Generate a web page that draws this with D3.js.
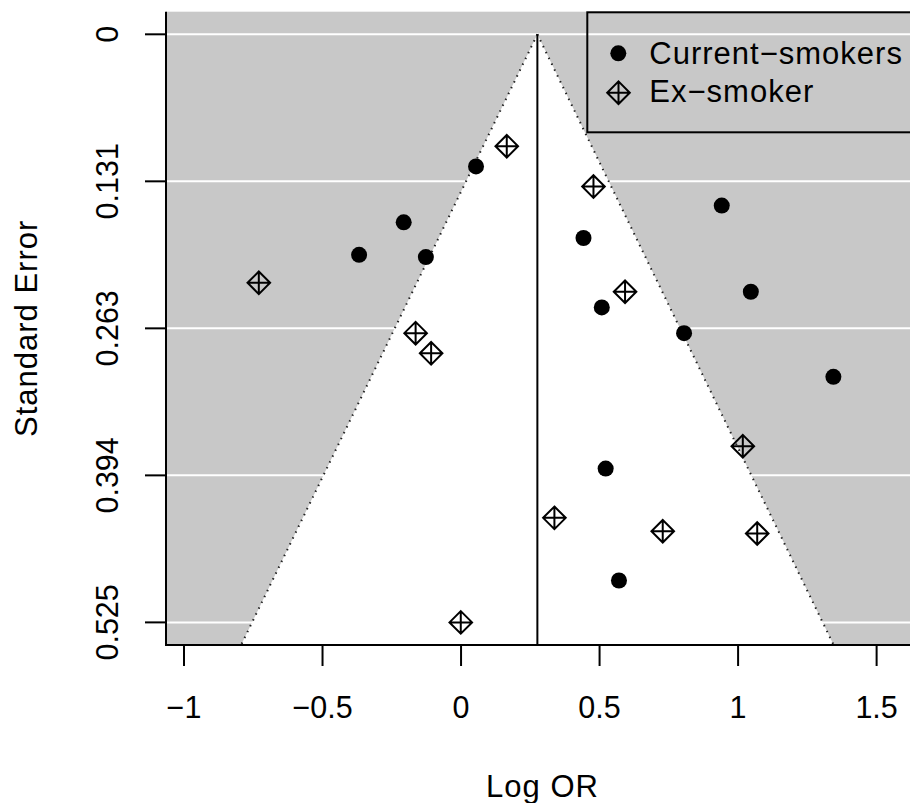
<!DOCTYPE html>
<html>
<head>
<meta charset="utf-8">
<script src="https://cdn.jsdelivr.net/npm/d3@7"></script>
<style>
  body { margin: 0; background: #fff; }
  text { font-family: "Liberation Sans", Arial, sans-serif; fill: #000; }
</style>
</head>
<body>
<div id="chart"></div>
<script>
// funnel plot data: log odds ratio vs standard error
const currentLogOR = [0.054, -0.207, -0.368, -0.127, 0.442, 0.941, 1.046, 0.508, 0.805, 1.344, 0.522, 0.570];
const currentSE    = [0.118, 0.168, 0.197, 0.199, 0.182, 0.153, 0.230, 0.244, 0.267, 0.306, 0.388, 0.488];
const exLogOR = [0.165, 0.478, -0.730, 0.592, -0.164, -0.108, 1.017, 0.337, 0.728, 1.069, -0.001];
const exSE    = [0.100, 0.136, 0.222, 0.230, 0.267, 0.285, 0.368, 0.432, 0.444, 0.446, 0.5254];
const pooledEstimate = 0.2755;
const xTicks = [-1, -0.5, 0, 0.5, 1, 1.5];
const xTickLabels = ["\u22121", "\u22120.5", "0", "0.5", "1", "1.5"];
const yTicks = [0, 0.13135, 0.2627, 0.39405, 0.5254];
const yTickLabels = ["0", "0.131", "0.263", "0.394", "0.525"];
const seriesNames = ["Current\u2212smokers", "Ex\u2212smoker"];

const width = 910, height = 803;
const plot = {left: 166, right: 919, top: 11.7, bottom: 645};

const svg = d3.select("#chart").append("svg")
    .attr("width", width)
    .attr("height", height);

const x = d3.scaleLinear().domain([-1.065, 1.653]).range([plot.left, plot.right]);
const y = d3.scaleLinear().domain([-0.0202, 0.5456]).range([plot.top, plot.bottom]);
const yMax = y.domain()[1];

// grey background
svg.append("rect")
    .attr("x", plot.left).attr("y", plot.top)
    .attr("width", plot.right - plot.left).attr("height", plot.bottom - plot.top)
    .attr("fill", "#c8c8c8");

// white horizontal lines at y ticks
svg.append("g").selectAll("line")
    .data(yTicks)
    .enter().append("line")
    .attr("x1", plot.left).attr("x2", plot.right)
    .attr("y1", d => y(d)).attr("y2", d => y(d))
    .attr("stroke", "#fff").attr("stroke-width", 2);

// white funnel (pseudo confidence region)
const tri = [[pooledEstimate, 0], [pooledEstimate - 1.96 * yMax, yMax], [pooledEstimate + 1.96 * yMax, yMax]];
svg.append("path")
    .attr("d", "M" + tri.map(p => x(p[0]) + "," + y(p[1])).join("L") + "Z")
    .attr("fill", "#fff");

// dotted funnel edges
[tri[1], tri[2]].forEach(function(p) {
    svg.append("line")
        .attr("x1", x(tri[0][0])).attr("y1", y(tri[0][1]))
        .attr("x2", x(p[0])).attr("y2", y(p[1]))
        .attr("stroke", "#222").attr("stroke-width", 2)
        .attr("stroke-dasharray", "1.5,5");
});

// vertical line at pooled estimate
svg.append("line")
    .attr("x1", x(pooledEstimate)).attr("x2", x(pooledEstimate))
    .attr("y1", y(0)).attr("y2", y(yMax))
    .attr("stroke", "#000").attr("stroke-width", 2);

// diamond with plus, like pch 9
const diamondPath = function(h) {
    return "M0," + (-h) + "L" + h + ",0L0," + h + "L" + (-h) + ",0Z" +
        "M" + (-h) + ",0L" + h + ",0M0," + (-h) + "L0," + h;
};

svg.append("g").selectAll("circle")
    .data(d3.zip(currentLogOR, currentSE))
    .enter().append("circle")
    .attr("cx", d => x(d[0])).attr("cy", d => y(d[1]))
    .attr("r", 8).attr("fill", "#000");

svg.append("g").selectAll("path")
    .data(d3.zip(exLogOR, exSE))
    .enter().append("path")
    .attr("transform", d => "translate(" + x(d[0]) + "," + y(d[1]) + ")")
    .attr("d", diamondPath(11.3))
    .attr("fill", "none").attr("stroke", "#000").attr("stroke-width", 2);

// axes (box type "l")
svg.append("path")
    .attr("d", "M" + plot.left + "," + plot.top + "V" + plot.bottom + "H" + plot.right)
    .attr("fill", "none").attr("stroke", "#000").attr("stroke-width", 2);

const xAxis = svg.append("g");
xAxis.selectAll("line")
    .data(xTicks)
    .enter().append("line")
    .attr("x1", d => x(d)).attr("x2", d => x(d))
    .attr("y1", plot.bottom).attr("y2", plot.bottom + 21)
    .attr("stroke", "#000").attr("stroke-width", 2);
xAxis.selectAll("text")
    .data(xTicks)
    .enter().append("text")
    .attr("x", d => x(d)).attr("y", 718)
    .attr("text-anchor", "middle")
    .style("font-size", "30.5px")
    .text((d, i) => xTickLabels[i]);

const yAxis = svg.append("g");
yAxis.selectAll("line")
    .data(yTicks)
    .enter().append("line")
    .attr("x1", plot.left - 21).attr("x2", plot.left)
    .attr("y1", d => y(d)).attr("y2", d => y(d))
    .attr("stroke", "#000").attr("stroke-width", 2);
yAxis.selectAll("text")
    .data(yTicks)
    .enter().append("text")
    .attr("transform", d => "translate(118," + y(d) + ") rotate(-90)")
    .attr("text-anchor", "middle")
    .style("font-size", "30.5px")
    .text((d, i) => yTickLabels[i]);

// axis titles
svg.append("text")
    .attr("x", (plot.left + plot.right) / 2).attr("y", 797)
    .attr("text-anchor", "middle")
    .style("font-size", "31px").style("letter-spacing", "1px")
    .text("Log OR");
svg.append("text")
    .attr("transform", "translate(37," + (plot.top + plot.bottom) / 2 + ") rotate(-90)")
    .attr("text-anchor", "middle")
    .style("font-size", "31px").style("letter-spacing", "1px")
    .text("Standard Error");

// legend, top right
const legend = svg.append("g");
legend.append("rect")
    .attr("x", 587.3).attr("y", 12.3)
    .attr("width", plot.right - 587.3).attr("height", 120)
    .attr("fill", "none").attr("stroke", "#000").attr("stroke-width", 2);
legend.append("circle")
    .attr("cx", 618.3).attr("cy", 53.3).attr("r", 8).attr("fill", "#000");
legend.append("path")
    .attr("transform", "translate(618.5,92.7)")
    .attr("d", diamondPath(11.3))
    .attr("fill", "none").attr("stroke", "#000").attr("stroke-width", 2);
legend.selectAll("text")
    .data(seriesNames)
    .enter().append("text")
    .attr("x", 649.3)
    .attr("y", (d, i) => 63.5 + i * 38.3)
    .style("font-size", "31px").style("letter-spacing", "1px")
    .text(d => d);
</script>
</body>
</html>
